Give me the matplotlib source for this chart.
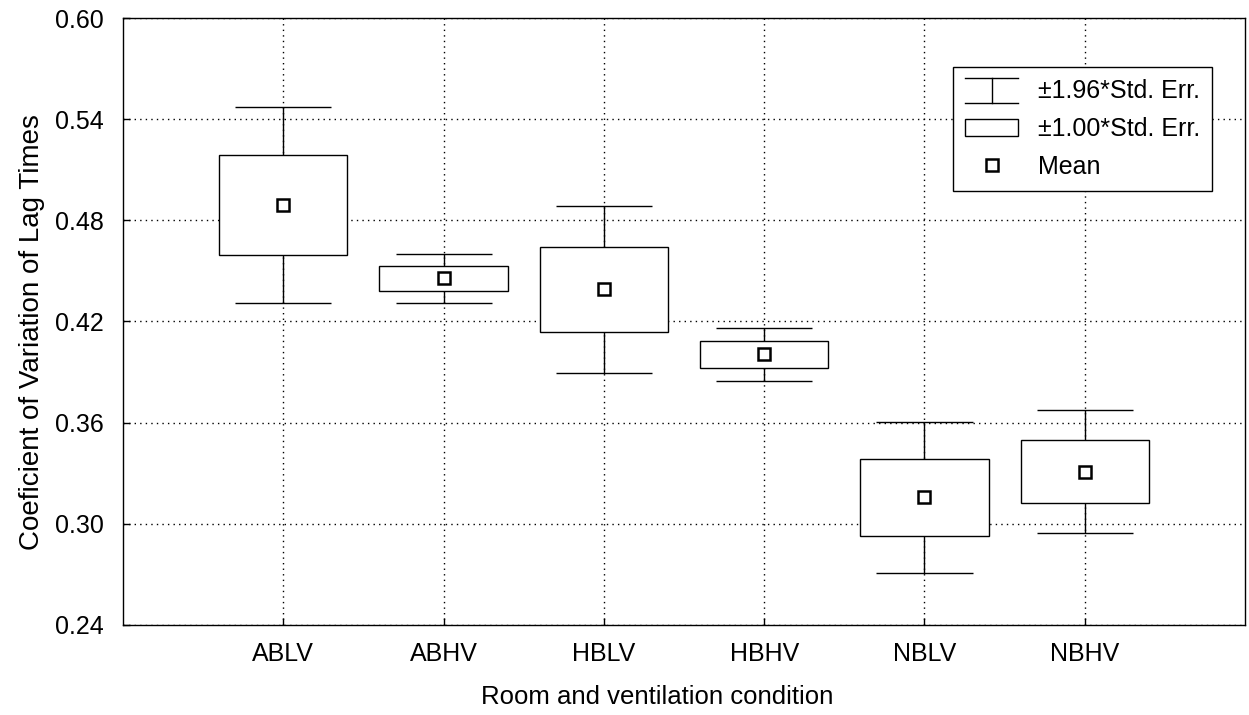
import matplotlib
matplotlib.use("Agg")
import matplotlib.pyplot as plt
from matplotlib.lines import Line2D
from matplotlib.patches import Rectangle
from matplotlib.legend_handler import HandlerBase

plt.rcParams['font.family'] = ['Liberation Sans', 'DejaVu Sans']
plt.rcParams['font.size'] = 18

conditions = ["ABLV", "ABHV", "HBLV", "HBHV", "NBLV", "NBHV"]
means = [0.489, 0.4456, 0.439, 0.4005, 0.3158, 0.331]
std_err = [0.0297, 0.0074, 0.0253, 0.0080, 0.0229, 0.0185]
y_ticks = [0.24, 0.30, 0.36, 0.42, 0.48, 0.54, 0.60]


class WhiskerHandler(HandlerBase):
    def create_artists(self, legend, orig_handle, xdescent, ydescent,
                       width, height, fontsize, trans):
        x0, x1 = -xdescent, -xdescent + width
        xm = (x0 + x1) / 2
        y0, y1 = -ydescent - 0.25 * height, -ydescent + 1.15 * height
        lines = [
            Line2D([x0, x1], [y0, y0], color="black", lw=1),
            Line2D([x0, x1], [y1, y1], color="black", lw=1),
            Line2D([xm, xm], [y0, y1], color="black", lw=1),
        ]
        for ln in lines:
            ln.set_transform(trans)
        return lines


class BoxHandler(HandlerBase):
    def create_artists(self, legend, orig_handle, xdescent, ydescent,
                       width, height, fontsize, trans):
        r = Rectangle((-xdescent, -ydescent), width, 0.95 * height,
                      facecolor="white", edgecolor="black", lw=1, transform=trans)
        return [r]


fig = plt.figure(figsize=(12.49, 7.15), dpi=100)
ax = fig.add_axes([0.0985, 0.1259, 0.8983, 0.8489])

x = list(range(1, len(conditions) + 1))
lo96 = [m - 1.96 * s for m, s in zip(means, std_err)]
hi96 = [m + 1.96 * s for m, s in zip(means, std_err)]

ax.vlines(x, lo96, hi96, color="black", lw=1, zorder=2)
ax.hlines(lo96, [v - 0.3 for v in x], [v + 0.3 for v in x], color="black", lw=1, zorder=2)
ax.hlines(hi96, [v - 0.3 for v in x], [v + 0.3 for v in x], color="black", lw=1, zorder=2)
ax.bar(x, [2 * s for s in std_err], bottom=[m - s for m, s in zip(means, std_err)],
       width=0.8, facecolor="white", edgecolor="black", lw=1, zorder=3)
ax.plot(x, means, ls="none", marker="s", ms=8.5, mfc="white", mec="black", mew=1.8, zorder=4)

ax.set_xlim(0, 7)
ax.set_ylim(0.24, 0.60)
ax.set_xticks(x)
ax.set_xticklabels(conditions)
ax.set_yticks(y_ticks)
ax.set_yticklabels([f"{v:.2f}" for v in y_ticks])
ax.tick_params(direction="in", length=5, width=1, colors="black", labelsize=18)
ax.tick_params(axis="x", pad=12)
ax.tick_params(axis="y", pad=14)
ax.grid(True, ls=(0, (1, 3)), color="black", lw=1, zorder=0)
ax.set_axisbelow(True)
for sp in ax.spines.values():
    sp.set_linewidth(1)

ax.set_xlabel("Room and ventilation condition", fontsize=18.5, labelpad=14)
ax.set_ylabel("Coeficient of Variation of Lag Times", fontsize=20, labelpad=7)
ax.xaxis.label.set_x(0.476)
ax.yaxis.label.set_y(0.483)

whisker_h = object()
box_h = object()
mean_h = Line2D([], [], ls="none", marker="s", ms=8.5, mfc="white", mec="black", mew=1.8)
leg = ax.legend([whisker_h, box_h, mean_h],
                ["\u00b11.96*Std. Err.", "\u00b11.00*Std. Err.", "Mean"],
                handler_map={whisker_h: WhiskerHandler(), box_h: BoxHandler()},
                loc="upper right", bbox_to_anchor=(0.9706, 0.919),
                fancybox=False, framealpha=1, edgecolor="black",
                fontsize=18, handlelength=2.1, handletextpad=0.8,
                labelspacing=0.55, borderpad=0.48, borderaxespad=0)
leg.get_frame().set_linewidth(1)

fig.savefig("out.png", dpi=100)
